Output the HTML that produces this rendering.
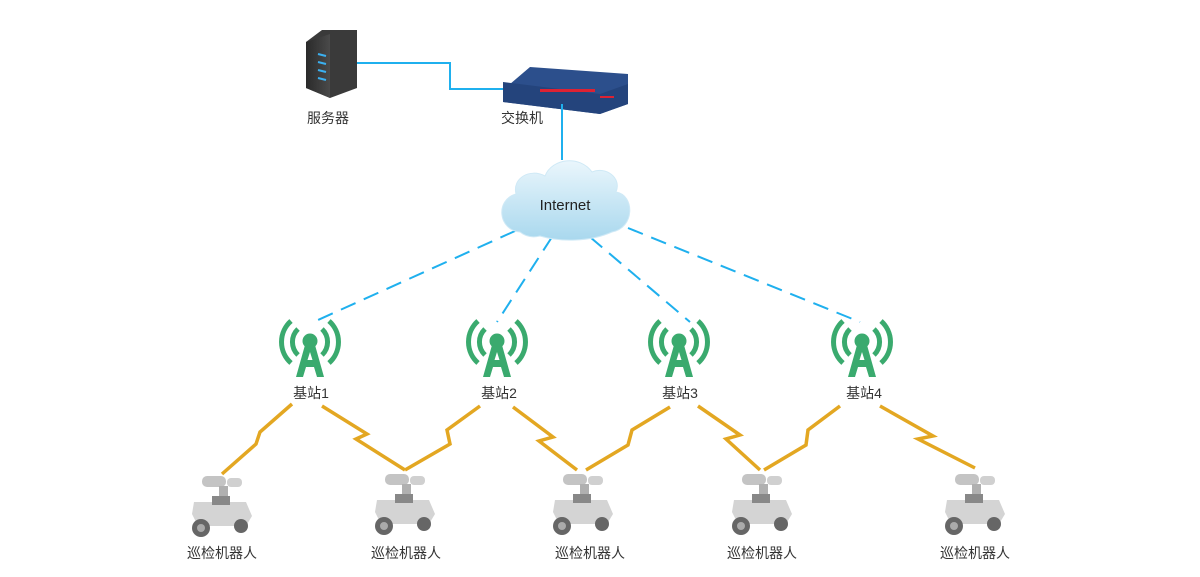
<!DOCTYPE html>
<html><head><meta charset="utf-8"><style>
html,body{margin:0;padding:0;background:#fff;}
svg{display:block;}
text{font-family:"Liberation Sans","Noto Sans CJK SC",sans-serif;fill:#333;font-size:14px;text-anchor:middle;}
</style></head><body>
<svg width="1200" height="577" viewBox="0 0 1200 577" xmlns="http://www.w3.org/2000/svg">
<defs>
<linearGradient id="cl" x1="0" y1="0" x2="0" y2="1"><stop offset="0" stop-color="#eaf6fc"/><stop offset="1" stop-color="#a9d8ee"/></linearGradient>
<linearGradient id="sv" x1="0" y1="0" x2="1" y2="0"><stop offset="0" stop-color="#2a2a2a"/><stop offset="1" stop-color="#4a4a4a"/></linearGradient>
<g id="tower">
  <circle cx="0" cy="-2" r="7.5" fill="#3aaa6e"/>
  <path d="M-12,-14 A18,18 0 0 0 -12,12 M12,-14 A18,18 0 0 1 12,12" stroke="#3aaa6e" stroke-width="5" fill="none"/>
  <path d="M-19,-22 A28,28 0 0 0 -19,20 M19,-22 A28,28 0 0 1 19,20" stroke="#3aaa6e" stroke-width="5" fill="none"/>
  <path d="M-5,2 L-14,34 L-7,34 L-4,24 L4,24 L7,34 L14,34 L5,2 Z M-2.5,17 L2.5,17 L0,9 Z" fill="#3aaa6e" fill-rule="evenodd"/>
</g>
<g id="robot">
  <rect x="-20" y="-24" width="24" height="11" rx="5" fill="#c4c4c4"/>
  <rect x="5" y="-22" width="15" height="9" rx="4" fill="#d0d0d0"/>
  <rect x="-3" y="-14" width="9" height="18" fill="#b0b0b0"/>
  <path d="M-28,2 L24,2 L30,16 L24,26 L-24,26 L-30,14 Z" fill="#d4d4d4"/>
  <rect x="-10" y="-4" width="18" height="9" fill="#888"/>
  <circle cx="-21" cy="28" r="9" fill="#666"/>
  <circle cx="-21" cy="28" r="4" fill="#aaa"/>
  <circle cx="19" cy="26" r="7" fill="#666"/>
</g>
</defs>

<!-- server -->
<path d="M306,42 L322,30 L357,30 L357,88 L330,98 L306,88 Z" fill="#3a3a3a"/>
<path d="M306,42 L330,34 L330,98 L306,88 Z" fill="url(#sv)"/>
<g stroke="#3bb0f0" stroke-width="2"><line x1="318" y1="54" x2="326" y2="56"/><line x1="318" y1="62" x2="326" y2="64"/><line x1="318" y1="70" x2="326" y2="72"/><line x1="318" y1="78" x2="326" y2="80"/></g>
<text x="328" y="123">服务器</text>

<!-- switch -->
<path d="M503,90 L530,67 L628,74 L628,104 L600,114 L503,102 Z" fill="#2c4f8c"/>
<path d="M503,82 L600,94 L628,84 L628,104 L600,114 L503,102 Z" fill="#24447c"/>
<rect x="540" y="89" width="55" height="3" fill="#d23"/>
<rect x="600" y="96" width="14" height="2" fill="#d23"/>
<text x="522" y="123">交换机</text>

<!-- wires -->
<polyline points="357,63 450,63 450,89 503,89" stroke="#1fb0ee" stroke-width="2" fill="none"/>
<line x1="562" y1="104" x2="562" y2="160" stroke="#1fb0ee" stroke-width="2"/>

<!-- dashed -->
<g stroke="#1fb0ee" stroke-width="2" stroke-dasharray="16,9" fill="none">
<line x1="515" y1="231" x2="318" y2="320"/>
<line x1="552" y1="237" x2="497" y2="322"/>
<line x1="590" y1="237" x2="690" y2="322"/>
<line x1="628" y1="228" x2="860" y2="322"/>
</g>

<!-- cloud -->
<path d="M520,232 C498,230 495,200 516,194 C512,178 530,168 545,176 C552,158 580,155 592,172 C606,166 622,178 616,192 C635,195 635,228 612,232 C590,242 560,242 540,236 C532,238 525,236 520,232 Z" fill="url(#cl)" stroke="#cfe9f6" stroke-width="1"/>
<text x="565" y="210" style="font-size:15px;fill:#222">Internet</text>

<!-- towers -->
<use href="#tower" x="310" y="343"/>
<use href="#tower" x="497" y="343"/>
<use href="#tower" x="679" y="343"/>
<use href="#tower" x="862" y="343"/>
<text x="311" y="398">基站1</text>
<text x="499" y="398">基站2</text>
<text x="680" y="398">基站3</text>
<text x="864" y="398">基站4</text>

<!-- lightning -->
<g stroke="#e3a722" stroke-width="3.5" fill="none" stroke-linejoin="miter">
<polyline points="292,404 260,432 256,444 222,474"/>
<polyline points="322,406 367,434 356,439 405,470"/>
<polyline points="480,406 447,430 450,444 405,470"/>
<polyline points="513,407 553,437 539,441 577,470"/>
<polyline points="670,407 632,430 628,445 586,470"/>
<polyline points="698,406 740,435 726,439 760,470"/>
<polyline points="840,406 808,430 806,445 764,470"/>
<polyline points="880,406 933,436 918,439 975,468"/>
</g>

<!-- robots -->
<use href="#robot" x="222" y="500"/>
<use href="#robot" x="405" y="498"/>
<use href="#robot" x="583" y="498"/>
<use href="#robot" x="762" y="498"/>
<use href="#robot" x="975" y="498"/>
<text x="222" y="558">巡检机器人</text>
<text x="406" y="558">巡检机器人</text>
<text x="590" y="558">巡检机器人</text>
<text x="762" y="558">巡检机器人</text>
<text x="975" y="558">巡检机器人</text>
</svg>
</body></html>
